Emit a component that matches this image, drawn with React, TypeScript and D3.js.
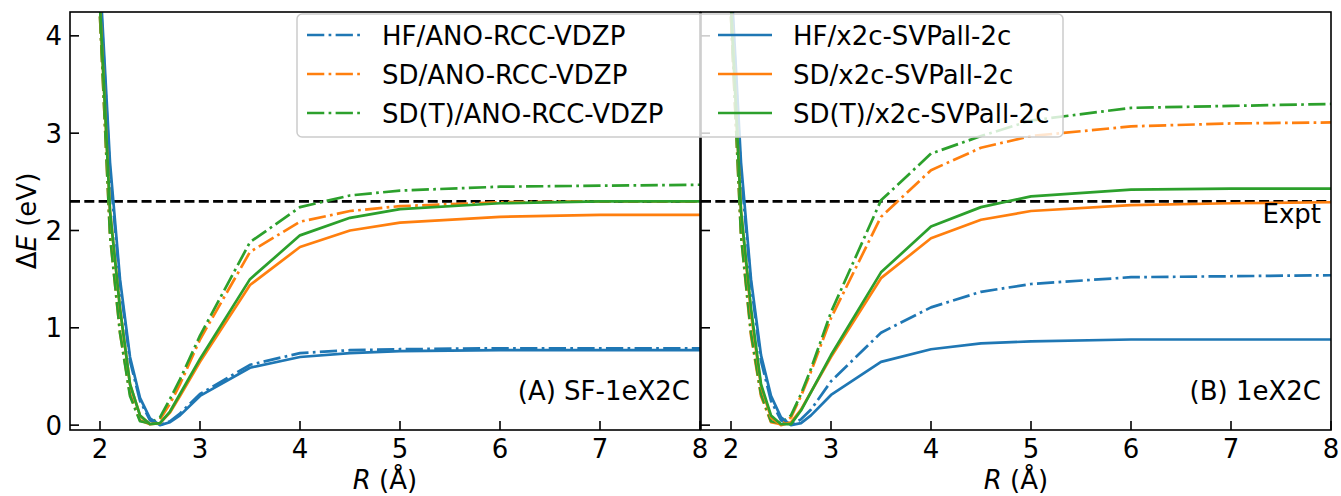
import React from "react";
import * as d3 from "d3";

const R = [2.0, 2.1, 2.2, 2.3, 2.4, 2.5, 2.6, 2.7, 2.8, 3.0, 3.5, 4.0, 4.5, 5.0, 6.0, 7.0, 8.0];

// Panel A: SF-1eX2C
const A_HF_ANO = [4.5, 2.6, 1.45, 0.66, 0.25, 0.05, 0.0, 0.04, 0.12, 0.32, 0.62, 0.74, 0.77, 0.78, 0.79, 0.79, 0.79];
const A_SD_ANO = [4.2, 1.95, 0.95, 0.32, 0.05, 0.01, 0.06, 0.22, 0.42, 0.88, 1.78, 2.09, 2.2, 2.25, 2.29, 2.3, 2.3];
const A_SDT_ANO = [4.2, 1.95, 0.95, 0.3, 0.04, 0.02, 0.08, 0.27, 0.47, 0.92, 1.88, 2.24, 2.36, 2.41, 2.45, 2.46, 2.47];
const A_HF_X2C = [4.6, 2.7, 1.5, 0.7, 0.28, 0.07, 0.0, 0.03, 0.1, 0.3, 0.59, 0.7, 0.74, 0.76, 0.77, 0.77, 0.77];
const A_SD_X2C = [4.3, 2.2, 1.2, 0.42, 0.1, 0.01, 0.02, 0.13, 0.3, 0.65, 1.44, 1.83, 2.0, 2.08, 2.14, 2.16, 2.16];
const A_SDT_X2C = [4.3, 2.2, 1.2, 0.42, 0.1, 0.01, 0.02, 0.14, 0.32, 0.68, 1.5, 1.95, 2.13, 2.22, 2.28, 2.3, 2.3];

// Panel B: 1eX2C
const B_HF_ANO = [4.5, 2.6, 1.45, 0.66, 0.25, 0.05, 0.0, 0.06, 0.16, 0.45, 0.95, 1.21, 1.37, 1.45, 1.52, 1.53, 1.54];
const B_SD_ANO = [4.2, 1.95, 0.92, 0.3, 0.03, 0.01, 0.08, 0.3, 0.55, 1.1, 2.14, 2.62, 2.85, 2.97, 3.07, 3.1, 3.11];
const B_SDT_ANO = [4.2, 1.95, 0.95, 0.32, 0.04, 0.02, 0.1, 0.32, 0.58, 1.16, 2.31, 2.79, 2.97, 3.13, 3.26, 3.28, 3.3];
const B_HF_X2C = [4.6, 2.7, 1.5, 0.72, 0.3, 0.08, 0.0, 0.02, 0.1, 0.31, 0.65, 0.78, 0.84, 0.86, 0.88, 0.88, 0.88];
const B_SD_X2C = [4.3, 2.2, 1.15, 0.4, 0.08, 0.0, 0.03, 0.16, 0.34, 0.7, 1.51, 1.92, 2.11, 2.2, 2.26, 2.28, 2.29];
const B_SDT_X2C = [4.3, 2.2, 1.2, 0.42, 0.1, 0.01, 0.01, 0.15, 0.34, 0.72, 1.57, 2.04, 2.24, 2.35, 2.42, 2.43, 2.43];

const EXPT = 2.3;
const X_TICKS = [2, 3, 4, 5, 6, 7, 8];
const Y_TICKS = [0, 1, 2, 3, 4];
const LABELS = [
  "HF/ANO-RCC-VDZP",
  "SD/ANO-RCC-VDZP",
  "SD(T)/ANO-RCC-VDZP",
  "HF/x2c-SVPall-2c",
  "SD/x2c-SVPall-2c",
  "SD(T)/x2c-SVPall-2c",
];
const PANEL_TEXT = ["(A) SF-1eX2C", "(B) 1eX2C"];

const COLORS = ["#1f77b4", "#ff7f0e", "#2ca02c"];
const LW = 2.7;
const DASHDOT = `${6.4 * LW} ${1.6 * LW} ${1 * LW} ${1.6 * LW}`;
const DASHED = `${3.7 * LW} ${1.6 * LW}`;
const FONT = "DejaVu Sans, sans-serif";
const FS = 26;

const PANELS = [
  { left: 70, series: [A_HF_ANO, A_SD_ANO, A_SDT_ANO, A_HF_X2C, A_SD_X2C, A_SDT_X2C] },
  { left: 701, series: [B_HF_ANO, B_SD_ANO, B_SDT_ANO, B_HF_X2C, B_SD_X2C, B_SDT_X2C] },
];
const PW = 630;
const TOP = 12;
const BOTTOM = 430;

export default function App() {
  const y = d3.scaleLinear().domain([-0.05, 4.245]).range([BOTTOM, TOP]);
  return (
    <svg width={1341} height={496} style={{ position: "absolute", left: 0, top: 0, background: "#fff" }} fontFamily={FONT}>
      <defs>
        {PANELS.map((p, i) => (
          <clipPath id={`clip${i}`} key={i}>
            <rect x={p.left} y={TOP} width={PW} height={BOTTOM - TOP} />
          </clipPath>
        ))}
      </defs>
      {PANELS.map((p, pi) => {
        const x = d3.scaleLinear().domain([1.7, 8]).range([p.left, p.left + PW]);
        const line = d3
          .line<number>()
          .x((_, i) => x(R[i]))
          .y((d) => y(d));
        return (
          <g key={pi}>
            <g clipPath={`url(#clip${pi})`}>
              <line x1={p.left} x2={p.left + PW} y1={y(EXPT)} y2={y(EXPT)} stroke="#000" strokeWidth={LW} strokeDasharray={DASHED} />
              {p.series.map((s, si) => (
                <path
                  key={si}
                  d={line(s) || ""}
                  fill="none"
                  stroke={COLORS[si % 3]}
                  strokeWidth={LW}
                  strokeDasharray={si < 3 ? DASHDOT : undefined}
                  strokeLinejoin="round"
                />
              ))}
            </g>
            {X_TICKS.map((t) => (
              <g key={t}>
                <line x1={x(t)} x2={x(t)} y1={BOTTOM} y2={BOTTOM - 9} stroke="#000" strokeWidth={1.6} />
                <text x={x(t)} y={458} textAnchor="middle" fontSize={FS} fill="#000">
                  {t}
                </text>
              </g>
            ))}
            {Y_TICKS.map((t) => (
              <g key={t}>
                <line x1={p.left} x2={p.left + 9} y1={y(t)} y2={y(t)} stroke="#000" strokeWidth={1.6} />
                {pi === 0 && (
                  <text x={62} y={y(t) + 9.5} textAnchor="end" fontSize={FS} fill="#000">
                    {t}
                  </text>
                )}
              </g>
            ))}
            <rect x={p.left} y={TOP} width={PW} height={BOTTOM - TOP} fill="none" stroke="#000" strokeWidth={1.6} />
            <text x={p.left + PW - 10} y={400} textAnchor="end" fontSize={FS} fill="#000">
              {PANEL_TEXT[pi]}
            </text>
            <text x={p.left + PW / 2} y={489} textAnchor="middle" fontSize={FS} fill="#000">
              <tspan fontStyle="italic">R</tspan> (Å)
            </text>
          </g>
        );
      })}
      <text x={1321} y={223} textAnchor="end" fontSize={FS} fill="#000">
        Expt
      </text>
      <text transform={`translate(36, ${(TOP + BOTTOM) / 2}) rotate(-90)`} textAnchor="middle" fontSize={FS} fill="#000">
        Δ<tspan fontStyle="italic">E</tspan> (eV)
      </text>
      {/* legend */}
      <g>
        <rect x={297} y={14} width={766} height={123} rx={5} fill="#fff" fillOpacity={0.8} stroke="#cccccc" strokeWidth={1.5} />
        {LABELS.map((lab, i) => {
          const col = Math.floor(i / 3);
          const row = i % 3;
          const ly = 35 + row * 39;
          const lx = col === 0 ? 307 : 718;
          return (
            <g key={lab}>
              <line x1={lx} x2={lx + 54} y1={ly} y2={ly} stroke={COLORS[row]} strokeWidth={LW} strokeDasharray={col === 0 ? DASHDOT : undefined} />
              <text x={lx + 75} y={ly + 9.5} fontSize={FS} fill="#000">
                {lab}
              </text>
            </g>
          );
        })}
      </g>
    </svg>
  );
}
